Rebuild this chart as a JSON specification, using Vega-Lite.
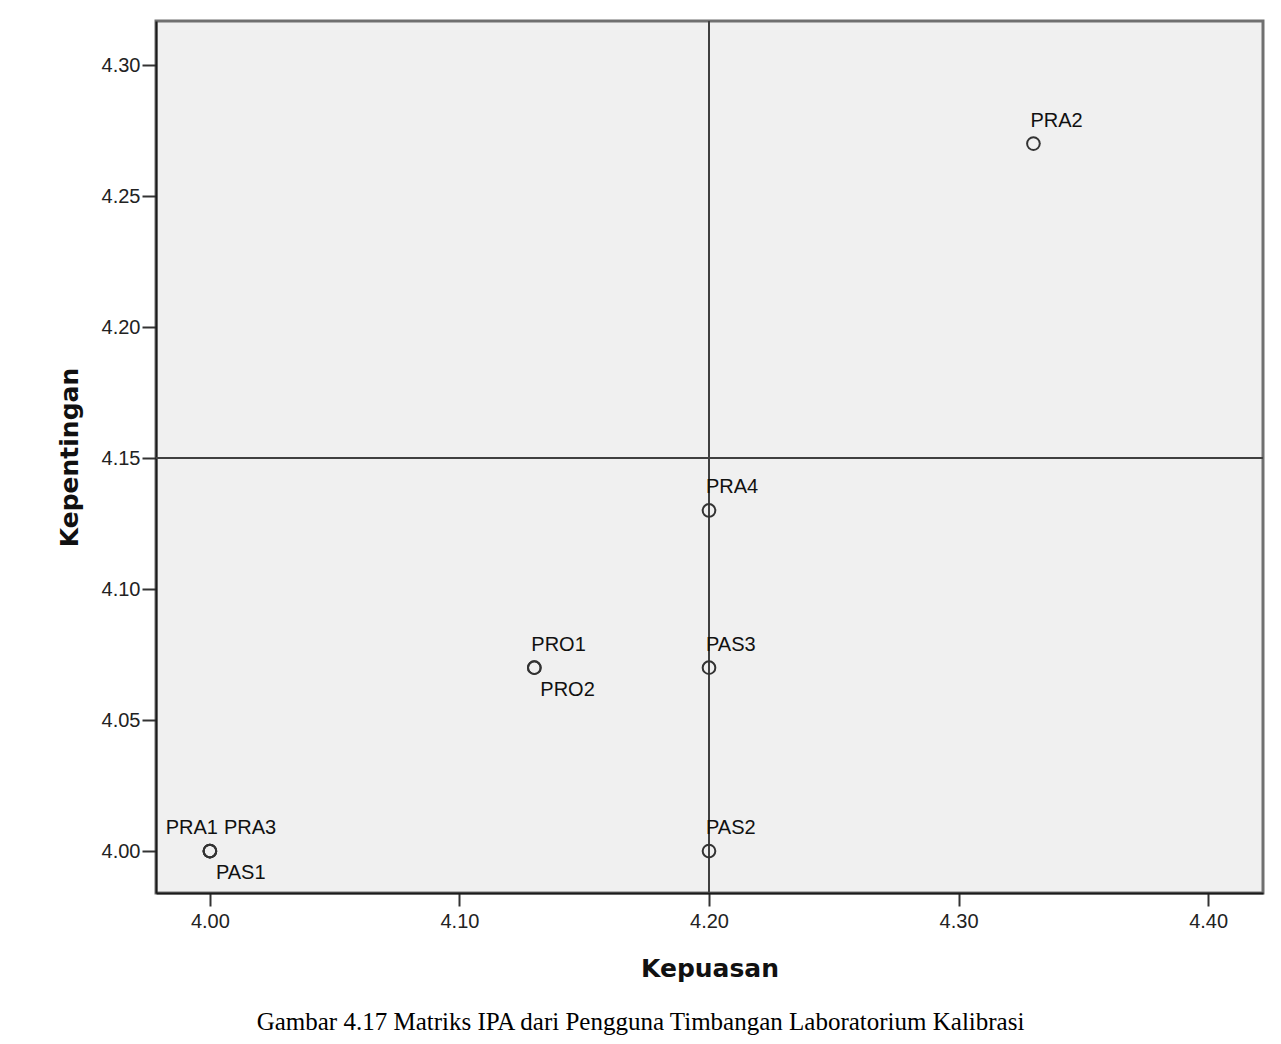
{
  "$schema": "https://vega.github.io/schema/vega-lite/v6.json",
  "autosize": {"type": "none"},
  "width": 1107,
  "height": 872,
  "padding": {"left": 156, "top": 21, "right": 18, "bottom": 151},
  "background": "white",
  "config": {
    "view": {"fill": "#f0f0f0", "stroke": "#707070", "strokeWidth": 3},
    "axis": {"grid": false, "domainColor": "#1a1a1a", "domainWidth": 2, "tickColor": "#333333", "tickWidth": 2, "labelFont": "Liberation Sans", "labelFontSize": 20, "labelColor": "#222222", "titleFont": "DejaVu Sans", "titleFontWeight": "bold", "titleFontSize": 25, "titleColor": "#111111"}
  },
  "title": {
    "text": "Gambar 4.17 Matriks IPA dari Pengguna Timbangan Laboratorium Kalibrasi",
    "orient": "bottom",
    "anchor": "middle",
    "frame": "group",
    "font": "Liberation Serif",
    "fontSize": 25,
    "fontWeight": "normal",
    "color": "#000000",
    "dx": -69,
    "offset": 29,
    "baseline": "top"
  },
  "data": {
    "values": [
      {"label": "PRA1", "kepuasan": 4.00, "kepentingan": 4.00},
      {"label": "PRA2", "kepuasan": 4.33, "kepentingan": 4.27},
      {"label": "PRA3", "kepuasan": 4.00, "kepentingan": 4.00},
      {"label": "PRA4", "kepuasan": 4.20, "kepentingan": 4.13},
      {"label": "PAS1", "kepuasan": 4.00, "kepentingan": 4.00},
      {"label": "PAS2", "kepuasan": 4.20, "kepentingan": 4.00},
      {"label": "PAS3", "kepuasan": 4.20, "kepentingan": 4.07},
      {"label": "PRO1", "kepuasan": 4.13, "kepentingan": 4.07},
      {"label": "PRO2", "kepuasan": 4.13, "kepentingan": 4.07}
    ]
  },
  "encoding": {
    "x": {"field": "kepuasan", "type": "quantitative", "scale": {"domain": [3.9784, 4.422], "nice": false, "zero": false},
      "axis": {"title": "Kepuasan", "values": [4.0, 4.1, 4.2, 4.3, 4.4], "format": ".2f", "tickSize": 13, "labelPadding": 5, "titleY": 83, "titleBaseline": "alphabetic"}},
    "y": {"field": "kepentingan", "type": "quantitative", "scale": {"domain": [3.984, 4.3168], "nice": false, "zero": false},
      "axis": {"title": "Kepentingan", "values": [4.0, 4.05, 4.1, 4.15, 4.2, 4.25, 4.3], "format": ".2f", "tickSize": 14, "labelPadding": 2, "titleX": -79, "titleBaseline": "alphabetic"}}
  },
  "layer": [
    {"mark": {"type": "rule", "color": "#404040", "strokeWidth": 2}, "encoding": {"x": {"datum": 4.2}, "y": null}},
    {"mark": {"type": "rule", "color": "#404040", "strokeWidth": 2}, "encoding": {"y": {"datum": 4.15}, "x": null}},
    {"mark": {"type": "point", "shape": "circle", "filled": false, "size": 160, "strokeWidth": 2, "color": "#333333", "opacity": 1}},
    {"transform": [{"filter": {"field": "label", "oneOf": ["PRA2", "PRA4", "PAS2", "PAS3", "PRO1"]}}],
     "mark": {"type": "text", "font": "Liberation Sans", "fontSize": 20, "color": "#111111", "align": "left", "baseline": "alphabetic", "dx": -3, "dy": -17},
     "encoding": {"text": {"field": "label"}}},
    {"transform": [{"filter": {"field": "label", "oneOf": ["PRA3"]}}],
     "mark": {"type": "text", "font": "Liberation Sans", "fontSize": 20, "color": "#111111", "align": "left", "baseline": "alphabetic", "dx": 14, "dy": -17},
     "encoding": {"text": {"field": "label"}}},
    {"transform": [{"filter": {"field": "label", "oneOf": ["PRA1"]}}],
     "mark": {"type": "text", "font": "Liberation Sans", "fontSize": 20, "color": "#111111", "align": "right", "baseline": "alphabetic", "dx": 8, "dy": -17},
     "encoding": {"text": {"field": "label"}}},
    {"transform": [{"filter": {"field": "label", "oneOf": ["PRO2", "PAS1"]}}],
     "mark": {"type": "text", "font": "Liberation Sans", "fontSize": 20, "color": "#111111", "align": "left", "baseline": "alphabetic", "dx": 6, "dy": 28},
     "encoding": {"text": {"field": "label"}}}
  ]
}
